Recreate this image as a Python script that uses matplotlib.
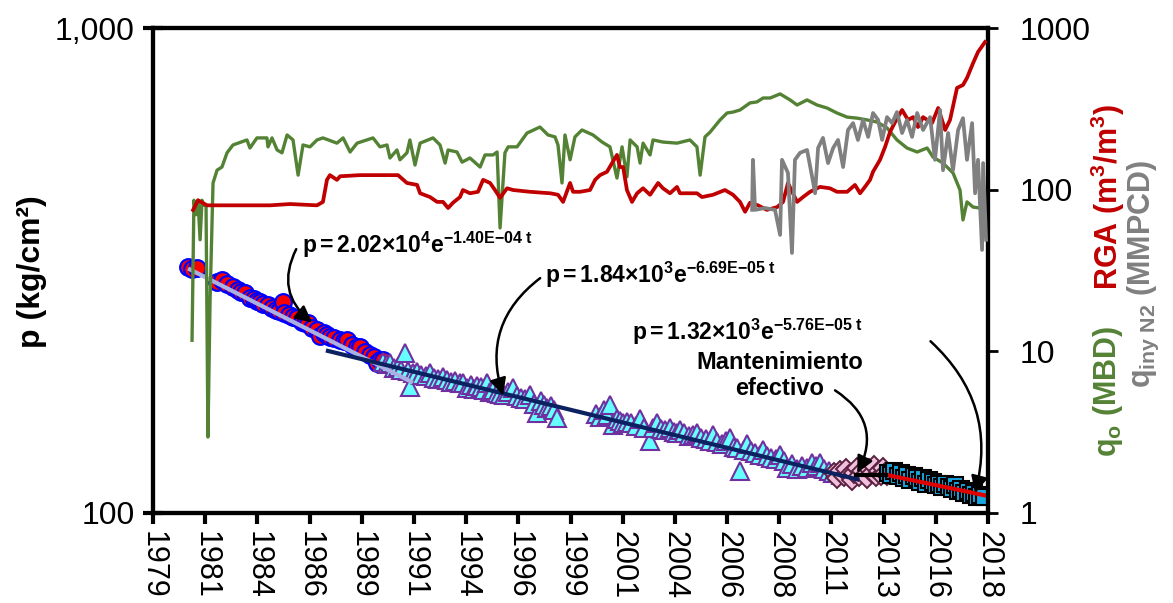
import matplotlib
matplotlib.use('Agg')
import matplotlib.pyplot as plt
import numpy as np
from matplotlib.ticker import FixedLocator, NullLocator, FixedFormatter

plt.rcParams['font.family'] = ['Liberation Sans', 'DejaVu Sans']
plt.rcParams['mathtext.fontset'] = 'custom'
plt.rcParams['mathtext.rm'] = 'Liberation Sans'
plt.rcParams['mathtext.bf'] = 'Liberation Sans:bold'
plt.rcParams['mathtext.it'] = 'Liberation Sans:italic'

# ---------------- data ----------------
circ_year = [1981.10, 1981.30, 1981.52, 1982.45, 1982.70, 1982.95, 1983.22, 1983.45, 1983.62, 1983.79,
             1984.02, 1984.20, 1984.35, 1984.49, 1984.65, 1984.87, 1985.05, 1985.25, 1985.40, 1985.58,
             1985.62, 1985.85, 1986.05, 1986.24, 1986.45, 1986.60, 1986.76, 1986.95, 1987.18, 1987.32,
             1987.50, 1987.65, 1987.79, 1988.00, 1988.27, 1988.45, 1988.60, 1988.85, 1989.05, 1989.21,
             1989.45, 1989.68, 1989.85, 1990.01, 1990.15, 1990.30]
circ_p = [321, 318, 320, 300, 302, 296, 292, 288, 286, 284,
          277, 276, 273, 272, 270, 268, 265, 262, 261, 272,
          258, 256, 254, 252, 248, 247, 246, 241, 238, 232,
          235, 233, 231, 229, 227, 226, 227, 222, 220, 220,
          215, 212, 210, 204, 207, 207]

tri_year = [1990.30, 1990.50, 1990.62, 1990.80, 1991.00, 1991.15, 1991.33, 1991.45, 1991.56, 1991.71,
            1991.90, 1992.10, 1992.30, 1992.51, 1992.70, 1992.90, 1993.10, 1993.31, 1993.50, 1993.70,
            1993.90, 1994.06, 1994.25, 1994.45, 1994.60, 1994.72, 1994.90, 1995.05, 1995.19, 1995.35,
            1995.50, 1995.65, 1995.81, 1996.00, 1996.20, 1996.42, 1996.60, 1996.80, 1997.00, 1997.22,
            1997.40, 1997.55, 1997.75, 1997.90, 1998.02, 1998.20, 1998.35, 1998.49,
            2000.35, 2000.52, 2000.70, 2000.85, 2000.99, 2001.13, 2001.30, 2001.45, 2001.61, 2001.80,
            2002.00, 2002.20, 2002.41, 2002.60, 2002.88, 2003.00, 2003.21, 2003.40, 2003.60, 2003.82,
            2004.00, 2004.15, 2004.29, 2004.50, 2004.70, 2004.90, 2005.09, 2005.30, 2005.50, 2005.70,
            2005.85, 2006.05, 2006.25, 2006.45, 2006.65, 2006.85, 2007.00, 2007.12, 2007.30, 2007.45,
            2007.65, 2007.85, 2008.05, 2008.21, 2008.40, 2008.60, 2008.80, 2009.01, 2009.20, 2009.34,
            2009.55, 2009.81, 2010.05, 2010.28, 2010.50, 2010.70, 2010.90, 2011.10, 2011.30, 2011.51,
            2011.70, 2011.90]
tri_p = [205, 203, 204, 199, 200, 197, 214, 196, 182, 194,
         195, 193, 192, 194, 190, 189, 191, 188, 186, 187,
         185, 185, 181, 184, 180, 183, 182, 179, 185, 178,
         179, 177, 176, 175, 178, 181, 174, 173, 172, 175,
         168, 161, 170, 167, 165, 166, 163, 157,
         160, 158, 163, 159, 167, 152, 156, 155, 153, 154,
         153, 151, 156, 150, 141, 150, 153, 149, 148, 150,
         147, 146, 148, 146, 144, 145, 146, 143, 142, 141,
         145, 140, 139, 141, 143, 137, 136, 122, 135, 139,
         134, 133, 132, 135, 131, 130, 129, 132, 128, 124,
         126, 123, 125, 124, 127, 125, 127, 123, 122, 121,
         121, 120]

dia_year = [2011.55, 2011.70, 2011.85, 2012.00, 2012.10, 2012.25, 2012.40, 2012.50, 2012.62, 2012.75,
            2012.85, 2013.00, 2013.10, 2013.20, 2013.32, 2013.45, 2013.55, 2013.65, 2013.75, 2013.85,
            2013.95, 2014.05]
dia_p = [121, 118, 122, 119, 123, 120, 117, 121, 124, 119,
         122, 120, 118, 123, 121, 125, 119, 122, 120, 124,
         121, 120]

sq_year = [2014.10, 2014.25, 2014.40, 2014.55, 2014.70, 2014.85, 2015.00, 2015.15, 2015.30, 2015.45,
           2015.60, 2015.75, 2015.90, 2016.05, 2016.20, 2016.35, 2016.50, 2016.65, 2016.80, 2016.95,
           2017.10, 2017.25, 2017.40, 2017.55, 2017.70, 2017.85, 2018.00, 2018.15, 2018.30, 2018.45,
           2018.60]
sq_p = [121, 120, 122, 119, 121, 118, 120, 117, 119, 118,
        116, 118, 115, 117, 116, 114, 115, 113, 115, 113,
        112, 114, 111, 112, 110, 111, 109, 110, 108, 109,
        108]

# exponential fits p = a*exp(-b*t), t = Excel day number
fit_a = [2.02e4, 1.84e3, 1.32e3]
fit_b = [1.40e-4, 6.69e-5, 5.76e-5]
fit_start = [1981.10, 1987.60, 2013.90]
fit_end = [1991.70, 2012.75, 2018.80]
hold_year = [2012.60, 2014.00]
hold_p = [120, 120]

qo_year = [1981.29, 1981.38, 1981.48, 1981.57, 1981.67, 1981.76, 1981.85, 1981.95, 1982.04, 1982.14,
           1982.28, 1982.47, 1982.70, 1982.94, 1983.22, 1983.88, 1984.02, 1984.35, 1984.82, 1984.87,
           1985.06, 1985.30, 1985.53, 1985.77, 1986.05, 1986.29, 1986.52, 1986.85, 1987.18, 1987.46,
           1988.12, 1988.41, 1988.74, 1989.07, 1989.82, 1990.15, 1990.48, 1990.62, 1990.95, 1991.09,
           1991.42, 1991.56, 1991.80, 1992.04, 1992.65, 1992.98, 1993.22, 1993.36, 1993.78, 1994.02,
           1994.39, 1994.87, 1995.10, 1995.48, 1995.67, 1995.81, 1996.04, 1996.19, 1996.61, 1997.08,
           1997.69, 1998.07, 1998.40, 1998.54, 1998.73, 1998.87, 1999.11, 1999.34, 1999.67, 2000.19,
           2000.62, 2000.99, 2001.32, 2001.56, 2001.79, 2001.94, 2002.27, 2002.41, 2002.55, 2002.88,
           2003.02, 2003.49, 2004.15, 2004.76, 2005.09, 2005.24, 2005.47, 2005.71, 2006.18, 2006.51,
           2006.79, 2007.12, 2007.59, 2007.92, 2008.21, 2008.54, 2009.01, 2009.48, 2009.81, 2010.28,
           2010.75, 2011.22, 2011.69, 2012.17, 2012.64, 2013.11, 2013.58, 2014.05, 2014.52, 2014.99,
           2015.47, 2015.94, 2016.22, 2016.69, 2017.16, 2017.49, 2017.63, 2017.82, 2018.11, 2018.44,
           2018.67]
qo_val = [11.7, 86, 70, 86, 49, 86, 80, 80, 2.95, 20.8,
          110, 132, 138, 169, 189, 203, 181, 209, 209, 184,
          209, 176, 169, 218, 203, 123, 189, 184, 203, 209,
          194, 209, 171, 194, 209, 184, 189, 157, 176, 153,
          169, 203, 142, 194, 209, 189, 146, 176, 171, 148,
          157, 138, 164, 164, 171, 58, 169, 184, 184, 224,
          244, 218, 212, 189, 110, 218, 153, 212, 234, 218,
          197, 184, 118, 184, 120, 203, 184, 146, 194, 164,
          203, 197, 194, 203, 184, 123, 212, 227, 270, 298,
          302, 311, 344, 349, 369, 369, 391, 359, 334, 359,
          334, 320, 298, 281, 277, 270, 262, 241, 203, 181,
          171, 181, 159, 146, 127, 99.5, 65, 84, 78, 77,
          75]

rga_year = [1981.34, 1981.57, 1982.00, 1983.22, 1984.97, 1985.91, 1987.18, 1987.46, 1987.65, 1987.79,
            1988.12, 1988.27, 1989.21, 1991.00, 1991.42, 1991.90, 1992.04, 1992.51, 1992.84, 1993.12,
            1993.36, 1993.59, 1993.92, 1994.06, 1994.39, 1994.77, 1995.01, 1995.34, 1995.57, 1995.81,
            1996.14, 1996.42, 1997.22, 1998.17, 1998.54, 1998.78, 1999.11, 1999.25, 1999.58, 2000.05,
            2000.29, 2000.52, 2000.85, 2001.09, 2001.32, 2001.46, 2001.61, 2001.79, 2002.03, 2002.27,
            2002.55, 2002.88, 2003.26, 2003.49, 2003.82, 2004.15, 2004.29, 2005.09, 2005.33, 2005.85,
            2006.41, 2006.79, 2007.12, 2007.36, 2007.59, 2007.97, 2008.39, 2008.87, 2009.15, 2009.38,
            2009.81, 2010.09, 2010.42, 2010.89, 2011.36, 2011.69, 2012.17, 2012.54, 2012.78, 2013.01,
            2013.25, 2013.39, 2013.72, 2013.96, 2014.19, 2014.43, 2014.76, 2015.04, 2015.28, 2015.51,
            2015.75, 2016.17, 2016.46, 2016.79, 2017.02, 2017.35, 2017.63, 2017.82, 2018.11, 2018.34,
            2018.67]
rga_val = [74.9, 86, 80, 80, 80, 81.5, 80, 84, 115, 123,
           115, 121, 123, 123, 110, 107, 95, 90, 84, 84,
           77, 83, 90, 99.5, 95, 97, 115, 110, 99.5, 89,
           102, 99.5, 97, 95, 93, 84, 110, 97, 97, 99.5,
           115, 123, 129, 146, 164, 138, 138, 99.5, 84, 95,
           102, 93, 110, 102, 95, 104, 95, 95, 90, 93,
           99.5, 93, 84, 73, 83, 80, 75, 78, 84, 110,
           84, 90, 97, 104, 102, 97, 97, 107, 95, 104,
           115, 129, 153, 184, 227, 262, 311, 270, 281, 244,
           281, 258, 320, 234, 270, 426, 444, 491, 608, 711,
           819]

n2_year = [2007.69, 2007.73, 2007.83, 2008.30, 2008.77, 2009.01, 2009.10, 2009.38, 2009.57, 2009.71,
           2009.95, 2010.28, 2010.52, 2010.66, 2010.80, 2011.03, 2011.27, 2011.51, 2011.74, 2011.98,
           2012.21, 2012.45, 2012.68, 2012.92, 2013.16, 2013.39, 2013.63, 2013.82, 2014.05, 2014.29,
           2014.52, 2014.76, 2014.99, 2015.23, 2015.47, 2015.75, 2016.08, 2016.31, 2016.55, 2016.69,
           2016.93, 2017.16, 2017.40, 2017.63, 2017.82, 2018.06, 2018.20, 2018.34, 2018.53, 2018.58,
           2018.72]
n2_val = [75, 153, 75, 77, 75, 52.5, 153, 127, 40.6, 153,
          169, 176, 120, 95, 181, 209, 146, 181, 203, 138,
          234, 258, 203, 270, 212, 298, 270, 203, 281, 258,
          302, 224, 270, 212, 298, 234, 281, 153, 311, 132,
          224, 132, 234, 277, 153, 258, 95, 153, 42.4, 146,
          49]

x_min, x_max = 1979.45, 2018.81
x_tick_labels = ['1979', '1981', '1984', '1986', '1989', '1991', '1994', '1996', '1999',
                 '2001', '2004', '2006', '2008', '2011', '2013', '2016', '2018']


def excel_day(year):
    return 29221.0 + (np.asarray(year) - 1980.0) * 365.25


# ---------------- figure ----------------
W, H = 1173, 603
fig = plt.figure(figsize=(W / 100, H / 100), dpi=100)
ax = fig.add_axes([153 / W, (H - 513) / H, 835 / W, 485 / H])
ax2 = ax.twinx()

# pressure markers
ax.plot(circ_year, circ_p, 'o', ms=12, mfc='#ff0000', mec='#0000ff', mew=1.6, zorder=3)
ax.plot(tri_year, tri_p, '^', ms=13, mfc='#66ffff', mec='#7030a0', mew=1.5, zorder=3)
ax.plot(dia_year, dia_p, 'D', ms=10.5, mfc='#f0c0dc', mec='#5c2040', mew=1.4, zorder=3)
ax.plot(sq_year, sq_p, 's', ms=11, mfc='#1aa6e0', mec='#000000', mew=1.5, zorder=3)

fit_colors = ['#a9b0e3', '#0b2160', '#e00000']
for a, b, s, e, c in zip(fit_a, fit_b, fit_start, fit_end, fit_colors):
    yrs = np.linspace(s, e, 60)
    ax.plot(yrs, a * np.exp(-b * excel_day(yrs)), color=c, lw=3, zorder=4, solid_capstyle='butt')
ax.plot(hold_year, hold_p, color='black', lw=3, zorder=4)

ax.set_yscale('log')
ax.set_ylim(100, 1000)
ax.set_xlim(x_min, x_max)
ax.yaxis.set_major_locator(FixedLocator([100, 1000]))
ax.yaxis.set_major_formatter(FixedFormatter(['100', '1,000']))
ax.yaxis.set_minor_locator(NullLocator())
step = (x_max - x_min) / 16
ax.set_xticks([x_min + k * step for k in range(17)])
ax.set_xticklabels(x_tick_labels, rotation=270, va='top', ha='center')
ax.tick_params(axis='x', labelsize=22, direction='out', length=8, width=3, pad=5)
ax.tick_params(axis='y', labelsize=23, direction='inout', length=14, width=3, pad=6)

# right axis lines
ax2.plot(qo_year, qo_val, color='#548235', lw=2.4, zorder=2)
ax2.plot(rga_year, rga_val, color='#c00000', lw=2.7, zorder=3)
ax2.plot(n2_year, n2_val, color='#808080', lw=2.7, zorder=4)
ax2.set_yscale('log')
ax2.set_ylim(1, 1000)
ax2.yaxis.set_major_locator(FixedLocator([1, 10, 100, 1000]))
ax2.yaxis.set_major_formatter(FixedFormatter(['1', '10', '100', '1000']))
ax2.yaxis.set_minor_locator(NullLocator())
ax2.tick_params(axis='y', labelsize=23, direction='out', length=7, width=2, pad=16)

for a_ in (ax, ax2):
    for sp in a_.spines.values():
        sp.set_linewidth(3)

# annotations
arrow_kw = dict(arrowstyle='-|>,head_length=1.0,head_width=0.5', color='black', lw=1.8,
                shrinkA=0, shrinkB=0)
eq_size = 16.5
ax.annotate('', xy=(1986.95, 247), xytext=(1986.20, 350),
            arrowprops=dict(connectionstyle='arc3,rad=0.4', **arrow_kw), zorder=6)
ax.text(1986.47, 357, r'$\mathbf{p = 2.02{\times}10^{4}e^{-1.40E{-}04\ t}}$', fontsize=eq_size,
        va='center', ha='left', zorder=6)
ax.annotate('', xy=(1995.95, 175), xytext=(1997.70, 305),
            arrowprops=dict(connectionstyle='arc3,rad=0.35', **arrow_kw), zorder=6)
ax.text(1997.93, 310, r'$\mathbf{p = 1.84{\times}10^{3}e^{-6.69E{-}05\ t}}$', fontsize=eq_size,
        va='center', ha='left', zorder=6)
ax.annotate('', xy=(2018.20, 110), xytext=(2016.10, 226),
            arrowprops=dict(connectionstyle='arc3,rad=-0.3', **arrow_kw), zorder=6)
ax.text(2002.03, 236, r'$\mathbf{p = 1.32{\times}10^{3}e^{-5.76E{-}05\ t}}$', fontsize=eq_size,
        va='center', ha='left', zorder=6)
ax.annotate('', xy=(2012.65, 121), xytext=(2011.60, 179),
            arrowprops=dict(connectionstyle='arc3,rad=-0.45', **arrow_kw), zorder=6)
ax.text(2009.0, 192, 'Mantenimiento\nefectivo', fontsize=17, fontweight='bold',
        ha='center', va='center', linespacing=1.15, zorder=6)

# axis titles
fig.text(32 / W, (H - 272) / H, 'p (kg/cm²)', rotation=90, fontsize=23, fontweight='bold',
         ha='center', va='center')
fig.text(1108 / W, (H - 457) / H, r'$\mathbf{q_o\ (MBD)}$', rotation=90, fontsize=22,
         color='#548235', ha='center', va='bottom')
fig.text(1108 / W, (H - 290) / H, r'$\mathbf{RGA\ (m^3/m^3)}$', rotation=90, fontsize=22,
         color='#c00000', ha='center', va='bottom')
fig.text(1143 / W, (H - 274) / H, r'$\mathbf{q_{iny\ N2}\ (MMPCD)}$', rotation=90, fontsize=22,
         color='#808080', ha='center', va='center')

fig.savefig('out.png', dpi=100)
